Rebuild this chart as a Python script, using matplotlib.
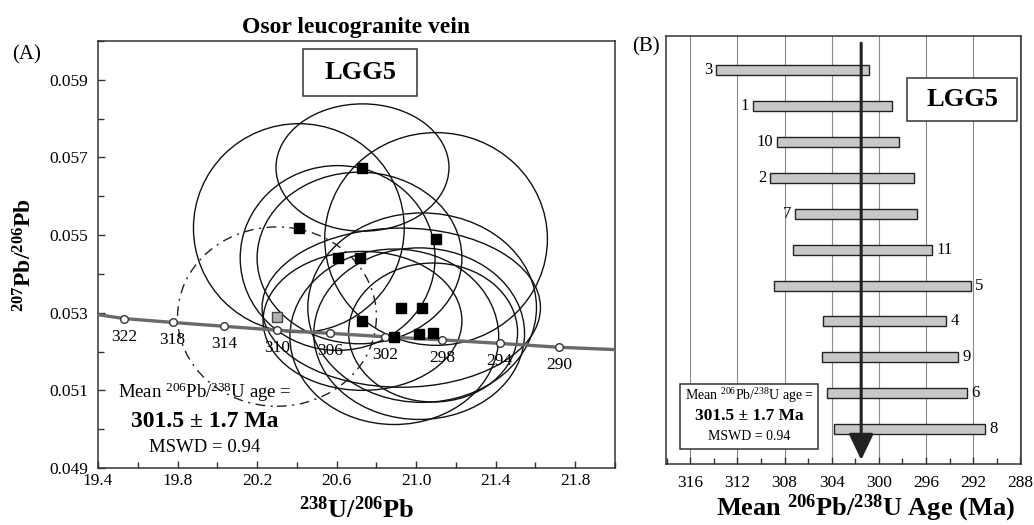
import matplotlib

matplotlib.use("Agg")
import matplotlib.pyplot as plt
import numpy as np
from matplotlib.patches import Ellipse, Rectangle
from matplotlib.ticker import MultipleLocator, FormatStrFormatter

plt.rcParams["font.family"] = ["Liberation Serif", "DejaVu Serif"]
plt.rcParams["mathtext.fontset"] = "custom"
plt.rcParams["mathtext.rm"] = "Liberation Serif"
plt.rcParams["mathtext.default"] = "regular"

# panel A: Tera-Wasserburg spots (centre + 2 sigma half-widths)
spot_u_pb = [20.73, 20.41, 21.10, 20.605, 20.715, 20.925, 21.03, 20.73, 20.89, 21.015, 21.085]
spot_pb_pb = [0.05674, 0.05518, 0.05490, 0.05441, 0.05441, 0.05313, 0.05313,
              0.05279, 0.05238, 0.05246, 0.05249]
spot_err_u = [0.435, 0.53, 0.56, 0.49, 0.515, 0.70, 0.575, 0.50, 0.525, 0.53, 0.425]
spot_err_pb = [0.00164, 0.00269, 0.00274, 0.00238, 0.00221, 0.00205, 0.00244,
               0.00179, 0.00226, 0.00221, 0.00179]

# excluded spot (grey square, dash-dot ellipse)
excl_u_pb = 20.30
excl_pb_pb = 0.05290
excl_err_u = 0.50
excl_err_pb = 0.00231

# concordia ticks (Ma)
conc_age = [322, 318, 314, 310, 306, 302, 298, 294, 290]
conc_u_pb = [19.53, 19.775, 20.035, 20.30, 20.565, 20.845, 21.13, 21.42, 21.72]
conc_pb_pb = [0.05285, 0.05275, 0.05265, 0.05255, 0.05247, 0.05238, 0.05230, 0.05221, 0.05211]
conc_end_u_pb = [19.4, 22.0]
conc_end_pb_pb = [0.05295, 0.05205]

# panel B: 206Pb/238U ages (2 sigma range), top to bottom
grain = ["3", "1", "10", "2", "7", "11", "5", "4", "9", "6", "8"]
age_low = [300.8, 298.9, 298.3, 297.0, 296.8, 295.5, 292.2, 294.3, 293.3, 292.5, 291.0]
age_high = [313.8, 310.7, 308.6, 309.2, 307.1, 307.3, 308.9, 304.7, 304.8, 304.4, 303.8]
label_side = ["left", "left", "left", "left", "left", "right", "right", "right", "right", "right", "right"]
mean_age = 301.5

fig = plt.figure(figsize=(10.34, 5.25), dpi=100)

# ---------------- panel A ----------------
ax = fig.add_axes([0.0948, 0.1086, 0.5, 0.8133])
ax.set_xlim(19.4, 22.0)
ax.set_ylim(0.049, 0.060)

cx = conc_end_u_pb[:1] + conc_u_pb + conc_end_u_pb[1:]
cy = conc_end_pb_pb[:1] + conc_pb_pb + conc_end_pb_pb[1:]
ax.plot(cx, cy, color="#6a6a6a", lw=2.4, zorder=3)
ax.plot(conc_u_pb, conc_pb_pb, "o", ms=5.5, mfc="white", mec="#333", mew=1.0, zorder=4)
for age, x, y in zip(conc_age, conc_u_pb, conc_pb_pb):
    ax.annotate(str(age), (x, y), xytext=(0, -13), textcoords="offset points",
                ha="center", va="center", fontsize=12.5, zorder=5)

for x, y, ex, ey in zip(spot_u_pb, spot_pb_pb, spot_err_u, spot_err_pb):
    ax.add_patch(Ellipse((x, y), 2 * ex, 2 * ey, fill=False, ec="#111", lw=1.0, zorder=2))
ax.add_patch(Ellipse((excl_u_pb, excl_pb_pb), 2 * excl_err_u, 2 * excl_err_pb, fill=False,
                     ec="#222", lw=1.0, ls=(0, (7, 4, 1.5, 4)), zorder=2))
ax.plot(spot_u_pb, spot_pb_pb, "s", ms=6.5, color="black", zorder=6)
ax.plot([excl_u_pb], [excl_pb_pb], "s", ms=7, mfc="#b0b0b0", mec="#444", mew=1.0, zorder=6)

ax.set_xticks(np.arange(19.4, 21.81, 0.4))
ax.set_yticks(np.arange(0.049, 0.0591, 0.002))
ax.xaxis.set_major_formatter(FormatStrFormatter("%.1f"))
ax.yaxis.set_major_formatter(FormatStrFormatter("%.3f"))
ax.xaxis.set_minor_locator(MultipleLocator(0.2))
ax.yaxis.set_minor_locator(MultipleLocator(0.001))
ax.tick_params(which="both", direction="in", labelsize=12.5, width=1.0, color="#333")
ax.tick_params(which="major", length=5)
ax.tick_params(which="minor", length=4)
ax.tick_params(axis="y", pad=7)
for s in ax.spines.values():
    s.set_color("#333")
    s.set_linewidth(1.1)

ax.set_title("Osor leucogranite vein", fontsize=17, fontweight="bold", pad=6)
ax.text(0.5, -0.098, "$^{238}$U/$^{206}$Pb", transform=ax.transAxes, ha="center",
        va="center", fontsize=19, fontweight="bold")
fig.text(0.024, 0.515, "$^{207}$Pb/$^{206}$Pb", rotation=90, ha="center", va="center",
         fontsize=17, fontweight="bold")
fig.text(0.026, 0.895, "(A)", ha="center", va="center", fontsize=15)

ax.add_patch(Rectangle((0.3965, 0.871), 0.2205, 0.11, transform=ax.transAxes,
                       fill=False, ec="#333", lw=1.1, zorder=7))
ax.text(0.507, 0.926, "LGG5", transform=ax.transAxes, ha="center", va="center",
        fontsize=19, fontweight="bold", zorder=7)

ax.text(0.207, 0.178, "Mean $^{206}$Pb/$^{238}$U age =", transform=ax.transAxes,
        ha="center", va="center", fontsize=13.5)
ax.text(0.207, 0.110, "301.5 ± 1.7 Ma", transform=ax.transAxes,
        ha="center", va="center", fontsize=17, fontweight="bold")
ax.text(0.207, 0.047, "MSWD = 0.94", transform=ax.transAxes,
        ha="center", va="center", fontsize=13.5)

# ---------------- panel B ----------------
bx = fig.add_axes([0.6441, 0.1162, 0.3433, 0.8152])
pos = np.arange(len(grain))
low = np.array(age_low)
high = np.array(age_high)
bx.barh(pos, high - low, left=low, height=0.28, color="#c8c8c8", edgecolor="#222",
        lw=1.0, zorder=3)
for i, (g, side) in enumerate(zip(grain, label_side)):
    if side == "left":
        bx.annotate(g, (high[i], i), xytext=(-3, 0), textcoords="offset points",
                    ha="right", va="center", fontsize=12)
    else:
        bx.annotate(g, (low[i], i), xytext=(3, 0), textcoords="offset points",
                    ha="left", va="center", fontsize=12)

bx.annotate("", xy=(mean_age, 10.86), xytext=(mean_age, -0.75),
            arrowprops=dict(arrowstyle="-|>,head_length=0.8,head_width=0.38",
                            mutation_scale=20, lw=2.2, color="#222",
                            shrinkA=0, shrinkB=0), zorder=6)

bx.set_xlim(318.05, 287.95)
bx.set_ylim(10.97, -0.95)
bx.set_xticks(np.arange(316, 287, -4))
bx.xaxis.set_minor_locator(MultipleLocator(2))
bx.set_yticks([])
bx.xaxis.grid(True, which="major", color="#8a8a8a", lw=0.8, zorder=0)
bx.set_axisbelow(True)
bx.tick_params(which="both", direction="in", labelsize=12.5, width=1.0, color="#333")
bx.tick_params(which="major", length=5)
bx.tick_params(which="minor", length=4)
bx.tick_params(axis="x", pad=8)
for s in bx.spines.values():
    s.set_color("#333")
    s.set_linewidth(1.1)

bx.text(0.563, -0.104, "Mean $^{206}$Pb/$^{238}$U Age (Ma)", transform=bx.transAxes,
        ha="center", va="center", fontsize=19, fontweight="bold")
fig.text(0.625, 0.91, "(B)", ha="center", va="center", fontsize=15)

bx.add_patch(Rectangle((0.679, 0.801), 0.31, 0.101, transform=bx.transAxes,
                       facecolor="white", ec="#333", lw=1.1, zorder=7))
bx.text(0.834, 0.852, "LGG5", transform=bx.transAxes, ha="center", va="center",
        fontsize=19, fontweight="bold", zorder=8)

bx.add_patch(Rectangle((0.039, 0.035), 0.389, 0.152, transform=bx.transAxes,
                       facecolor="white", ec="#333", lw=1.1, zorder=7))
bx.text(0.234, 0.161, "Mean $^{206}$Pb/$^{238}$U age =", transform=bx.transAxes,
        ha="center", va="center", fontsize=10, zorder=8)
bx.text(0.234, 0.112, "301.5 ± 1.7 Ma", transform=bx.transAxes,
        ha="center", va="center", fontsize=12.5, fontweight="bold", zorder=8)
bx.text(0.234, 0.065, "MSWD = 0.94", transform=bx.transAxes,
        ha="center", va="center", fontsize=10, zorder=8)

fig.savefig("out.png", dpi=100)
